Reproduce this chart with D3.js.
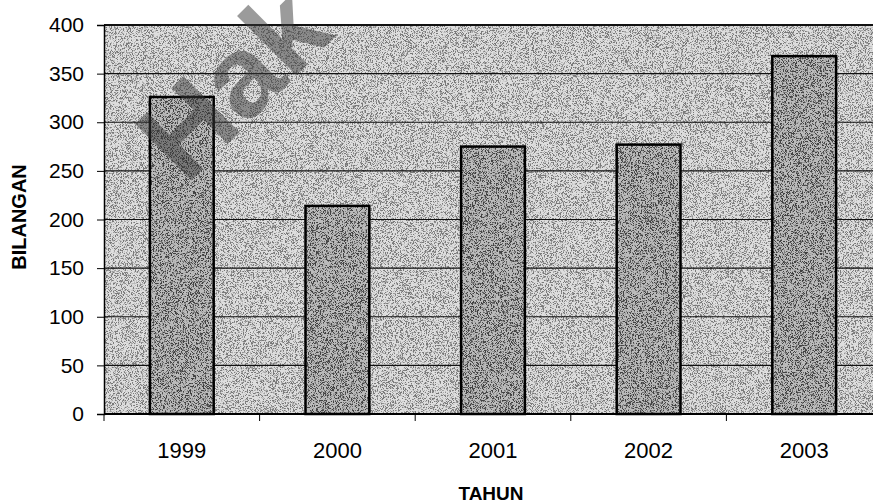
<!DOCTYPE html>
<html>
<head>
<meta charset="utf-8">
<script src="https://cdn.jsdelivr.net/npm/d3@7"></script>
<style>
  body { margin: 0; background: #fff; }
  svg { display: block; font-family: "Liberation Sans", Arial, sans-serif; }
  .axis path, .axis line { stroke: #000; }
</style>
</head>
<body>
<div id="chart"></div>
<script>
var years = ["1999", "2000", "2001", "2002", "2003"];
var values = [326, 214, 275, 277, 368];
var yTicks = [0, 50, 100, 150, 200, 250, 300, 350, 400];

var W = 873, H = 504;
var margin = {top: 25, left: 104, bottom: 90},
    plotRight = 882,
    plotBottom = H - margin.bottom;

var svg = d3.select("#chart").append("svg")
    .attr("width", W)
    .attr("height", H);

// grain filter to mimic the scanned texture
var defs = svg.append("defs");
var f = defs.append("filter").attr("id", "grain")
    .attr("x", 0).attr("y", 0).attr("width", "100%").attr("height", "100%");
f.append("feTurbulence")
    .attr("type", "fractalNoise")
    .attr("baseFrequency", 1.4)
    .attr("numOctaves", 2)
    .attr("seed", 4)
    .attr("result", "t");
f.append("feColorMatrix")
    .attr("in", "t")
    .attr("type", "matrix")
    .attr("values", "0 0 0 0 0  0 0 0 0 0  0 0 0 0 0  -7 0 0 0 3.6");
f.append("feComposite").attr("operator", "in").attr("in2", "SourceGraphic");

var x = d3.scaleBand()
    .domain(years)
    .range([margin.left, plotRight])
    .paddingInner(0.59)
    .paddingOuter(0.295);

var y = d3.scaleLinear()
    .domain([0, 400])
    .range([plotBottom, margin.top]);

// plot background
svg.append("rect")
    .attr("x", margin.left).attr("y", margin.top)
    .attr("width", plotRight - margin.left)
    .attr("height", plotBottom - margin.top)
    .attr("fill", "#dedede");
svg.append("rect")
    .attr("x", margin.left).attr("y", margin.top)
    .attr("width", plotRight - margin.left)
    .attr("height", plotBottom - margin.top)
    .attr("fill", "#000")
    .attr("opacity", 0.45)
    .attr("filter", "url(#grain)");

// gridlines
svg.append("g")
  .selectAll("line")
  .data(yTicks.slice(1))
  .enter().append("line")
    .attr("x1", margin.left).attr("x2", plotRight)
    .attr("y1", function(d){ return y(d); })
    .attr("y2", function(d){ return y(d); })
    .attr("stroke", "#111")
    .attr("stroke-width", function(d){ return d == 400 ? 2 : 1.2; });

// bars
var bars = svg.append("g");
bars.selectAll(".bar")
    .data(values)
  .enter().append("rect")
    .attr("class", "bar")
    .attr("x", function(d, i){ return x(years[i]); })
    .attr("y", function(d){ return y(d); })
    .attr("width", x.bandwidth())
    .attr("height", function(d){ return y(0) - y(d); })
    .attr("fill", "#bbbbbb");
bars.selectAll(".barn")
    .data(values)
  .enter().append("rect")
    .attr("class", "barn")
    .attr("x", function(d, i){ return x(years[i]); })
    .attr("y", function(d){ return y(d); })
    .attr("width", x.bandwidth())
    .attr("height", function(d){ return y(0) - y(d); })
    .attr("fill", "#000")
    .attr("opacity", 0.65)
    .attr("filter", "url(#grain)");
bars.selectAll(".bare")
    .data(values)
  .enter().append("rect")
    .attr("class", "bare")
    .attr("x", function(d, i){ return x(years[i]); })
    .attr("y", function(d){ return y(d); })
    .attr("width", x.bandwidth())
    .attr("height", function(d){ return y(0) - y(d); })
    .attr("fill", "none")
    .attr("stroke", "#000")
    .attr("stroke-width", 2.5);

// y axis
var yAxis = d3.axisLeft(y).tickValues(yTicks).tickSize(7).tickPadding(13);
svg.append("g")
    .attr("class", "axis")
    .attr("transform", "translate(" + margin.left + ",0)")
    .call(yAxis)
    .call(function(g){
      g.select(".domain").attr("stroke-width", 1.5);
      g.selectAll("text")
        .style("font-size", "21px")
        .style("font-family", "'Liberation Sans', Arial, sans-serif")
        .attr("fill", "#000");
    });

// x axis: ticks at category boundaries
svg.append("line")
    .attr("x1", margin.left).attr("x2", plotRight)
    .attr("y1", plotBottom).attr("y2", plotBottom)
    .attr("stroke", "#000").attr("stroke-width", 2);
var step = x.step();
svg.append("g")
  .selectAll("line")
  .data(years)
  .enter().append("line")
    .attr("x1", function(d){ return x(d) + x.bandwidth() / 2 - step / 2; })
    .attr("x2", function(d){ return x(d) + x.bandwidth() / 2 - step / 2; })
    .attr("y1", plotBottom).attr("y2", plotBottom + 7)
    .attr("stroke", "#000");
svg.append("g")
  .selectAll("text")
  .data(years)
  .enter().append("text")
    .attr("x", function(d){ return x(d) + x.bandwidth() / 2; })
    .attr("y", 458)
    .attr("text-anchor", "middle")
    .style("font-size", "22px")
    .text(function(d){ return d; });

// axis titles
svg.append("text")
    .attr("x", 491).attr("y", 500)
    .attr("text-anchor", "middle")
    .style("font-size", "19px")
    .style("font-weight", "bold")
    .text("TAHUN");
svg.append("text")
    .attr("transform", "translate(26," + 217 + ") rotate(-90)")
    .attr("text-anchor", "middle")
    .style("font-size", "20px")
    .style("font-weight", "bold")
    .text("BILANGAN");

// watermark
svg.append("text")
    .attr("transform", "translate(186,186) rotate(-45)")
    .style("font-size", "116px")
    .style("font-weight", "bold")
    .attr("fill", "#3a3a3a")
    .attr("opacity", 0.5)
    .text("Hak cipta");
</script>
</body>
</html>
